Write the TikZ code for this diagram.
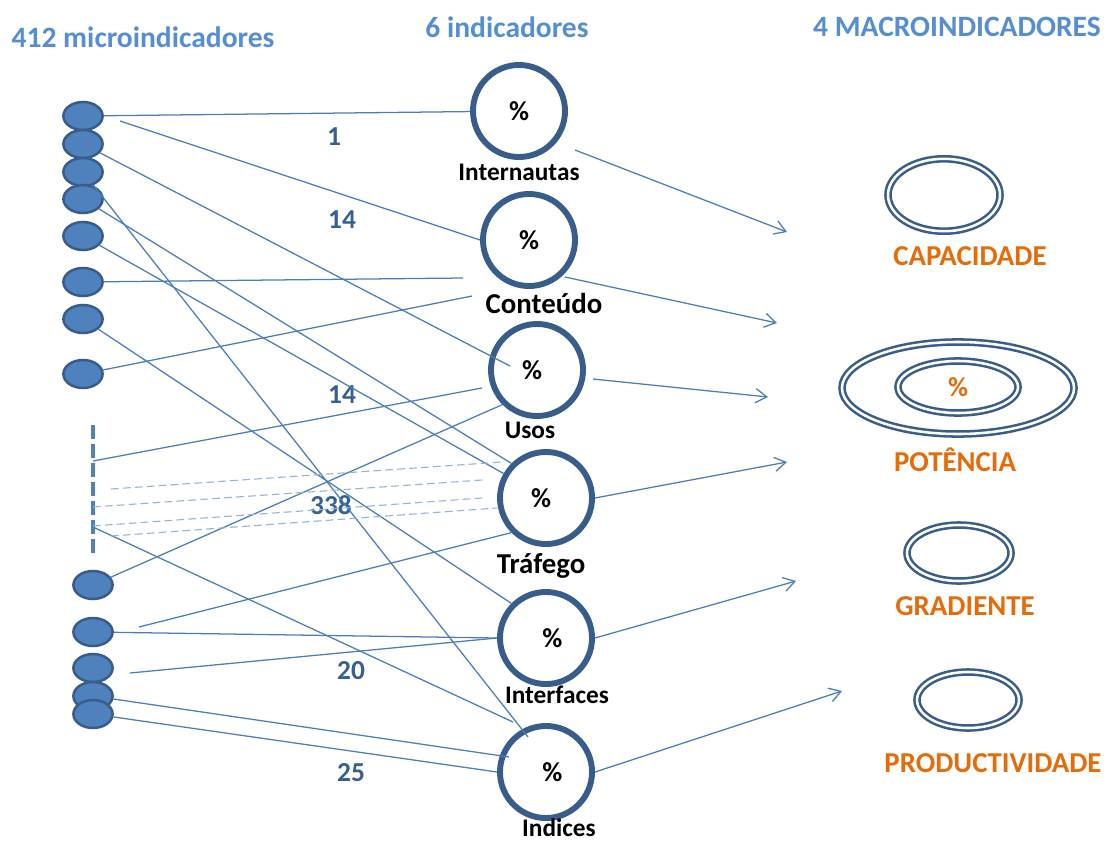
\documentclass[tikz,border=0pt]{standalone}
\usepackage{fontspec}
\setmainfont{Carlito}
\usepackage{tikz}
\usetikzlibrary{positioning,shapes.geometric,arrows.meta}
\definecolor{hdrblue}{RGB}{85,142,213}
\definecolor{numblue}{RGB}{55,96,146}
\definecolor{ringblue}{RGB}{56,93,138}
\definecolor{lineblue}{RGB}{74,126,187}
\definecolor{dashblue}{RGB}{149,179,215}
\definecolor{fillblue}{RGB}{79,129,189}
\definecolor{macorange}{RGB}{228,108,10}
\tikzset{micro/.style={ellipse,draw=ringblue,fill=fillblue,line width=1.8pt,inner sep=0pt,minimum width=0.98cm,minimum height=0.7cm},
	 ind/.style={circle,draw=ringblue,line width=4.2pt,inner sep=0pt,minimum size=2.3cm,font=\bfseries\fontsize{19.5}{23}\selectfont},
	 macro/.style={ellipse,draw=ringblue,double,line width=1.8pt,double distance=1.8pt,inner sep=0pt},
	 hdr/.style={font=\bfseries\fontsize{21}{25}\selectfont,text=hdrblue},
	 lbl/.style={font=\bfseries\fontsize{18}{22}\selectfont,inner sep=1pt},
	 lblbig/.style={font=\bfseries\fontsize{20.5}{24}\selectfont,inner sep=1pt},
	 num/.style={font=\bfseries\fontsize{19.5}{23}\selectfont,text=numblue},
	 mlbl/.style={font=\bfseries\fontsize{20.5}{24}\selectfont,text=macorange},
	 conn/.style={draw=lineblue,line width=0.9pt},
	 dline/.style={draw=dashblue,line width=0.8pt,dash pattern=on 5.5pt off 3pt},
	 vdash/.style={draw=fillblue,line width=3.5pt,dash pattern=on 10pt off 3.5pt},
	 arr/.style={draw=lineblue,line width=0.9pt,-{Straight Barb[length=8pt,width=10pt]}}
	 }

\begin{document}
\begin{tikzpicture}[x=0.025cm,y=-0.025cm] % micro -> indicadores -> macroindicadores
	\useasboundingbox (0,0) rectangle (1108,841);
	\node[hdr] (t1) at (143,37) {412 microindicadores};
	\node[hdr] (t2) at (507,27) {6 indicadores};
	\node[hdr] (t3) at (957,27) {4 MACROINDICADORES};

	\foreach \n/\x/\y in {1/83/116, 2/83/144, 3/83/172, 4/83/199, 5/83/236, 6/83/282, 7/83/319, 8/83/374,
	                      9/93/585, 10/93/632, 11/93/668, 12/93/696, 13/93/714}
		\node[micro] (m\n) at (\x,\y) {};
	\coordinate (d1) at (93,425);
	\coordinate (d2) at (93,553);
	\draw[vdash] (d1) -- (d2);

	\node[ind] (i1) at (519,111) {\%};
	\node[ind] (i2) at (529,240) {\%};
	\node[ind] (i3) at (537,370) {\hspace{-7pt}\%};
	\node[ind] (i4) at (546,498) {\hspace{-7pt}\%};
	\node[ind] (i5) at (546,638) {\hspace{9pt}\%};
	\node[ind] (i6) at (546,772) {\hspace{9pt}\%};
	\node[lbl] (l1) at (519,172) {Internautas};
	\node[lblbig] (l2) at (544,303) {Conteúdo};
	\node[lbl] (l3) at (530,430) {Usos};
	\node[lblbig] (l4) at (541,566) {Tráfego};
	\node[lbl] (l5) at (557,695) {Interfaces};
	\node[lbl] (l6) at (559,828) {Indices};

	\node[macro,minimum width=2.8cm,minimum height=1.81cm] (c1) at (944,195) {};
	\node[macro,minimum width=5.8cm,minimum height=2.3cm] (c2) at (958,388) {};
	\node[macro,minimum width=3cm,minimum height=1.3cm,text=macorange,font=\bfseries\fontsize{19.5}{23}\selectfont] (c2i) at (958,387) {\%};
	\node[macro,minimum width=2.6cm,minimum height=1.4cm] (c3) at (959,553) {};
	\node[macro,minimum width=2.55cm,minimum height=1.4cm] (c4) at (968,700) {};
	\node[mlbl] (k1) at (970,256) {CAPACIDADE};
	\node[mlbl] (k2) at (955,460) {POTÊNCIA};
	\node[mlbl] (k3) at (965,606) {GRADIENTE};
	\node[mlbl] (k4) at (993,763) {PRODUCTIVIDADE};

	\node[num] (n1) at (334,137) {1};
	\node[num] (n2) at (342,220) {14};
	\node[num] (n3) at (342,395) {14};
	\node[num] (n4) at (331,505) {338};
	\node[num] (n5) at (351,671) {20};
	\node[num] (n6) at (351,773) {25};

	% free ends
	\coordinate (s1) at (120,121);
	\coordinate (s2) at (139,627);
	\coordinate (s3) at (130,673);
	\coordinate (p1) at (93,461);
	\coordinate (p2) at (93,527);
	\coordinate (e2) at (510,366);
	\coordinate (e3) at (528,737);
	\coordinate (e6) at (463,278);
	\coordinate (e8) at (472,296);
	\coordinate (e10) at (482,388);
	\coordinate (e12) at (513,722);
	\coordinate (e17) at (509,757);

	\draw[conn] (m1) -- (i1);
	\draw[conn] (s1) -- (i2.west);
	\draw[conn] (m2) -- (e2);
	\draw[conn] (m3) -- (e3);
	\draw[conn] (m4) -- (i4.135);
	\draw[conn] (m5) -- (i4.150);
	\draw[conn] (m6) -- (e6);
	\draw[conn] (m7) -- (i5.135);
	\draw[conn] (m8) -- (e8);
	\draw[conn] (p1) -- (e10);
	\draw[conn] (p2) -- (e12);
	\draw[conn] (m9) -- (i3.225);
	\draw[conn] (s2) -- (i4.225);
	\draw[conn] (m10) -- (i5.west);
	\draw[conn] (s3) -- (i5.west);
	\draw[conn] (m12) -- (e17);
	\draw[conn] (m13) -- (i6.west);

	% dashed ones
	\coordinate (q1) at (111,489); \coordinate (r1) at (502,462);
	\coordinate (q2) at (93,507);  \coordinate (r2) at (482,480);
	\coordinate (q3) at (93,526);  \coordinate (r3) at (482,498);
	\coordinate (q4) at (111,536); \coordinate (r4) at (497,508);
	\foreach \k in {1,...,4}
		\draw[dline] (q\k) -- (r\k);

	% arrows to macroindicadores
	\coordinate (o1) at (575,150); \coordinate (a1) at (787,232);
	\coordinate (o2) at (565,277); \coordinate (a2) at (777,323);
	\coordinate (o3) at (593,379); \coordinate (a3) at (768,397);
	\coordinate (o4) at (i4.east); \coordinate (a4) at (787,462);
	\coordinate (o5) at (i5.east); \coordinate (a5) at (796,581);
	\coordinate (o6) at (i6.east); \coordinate (a6) at (842,691);
	\foreach \k in {1,...,6}
		\draw[arr] (o\k) -- (a\k);
\end{tikzpicture}
\end{document}
